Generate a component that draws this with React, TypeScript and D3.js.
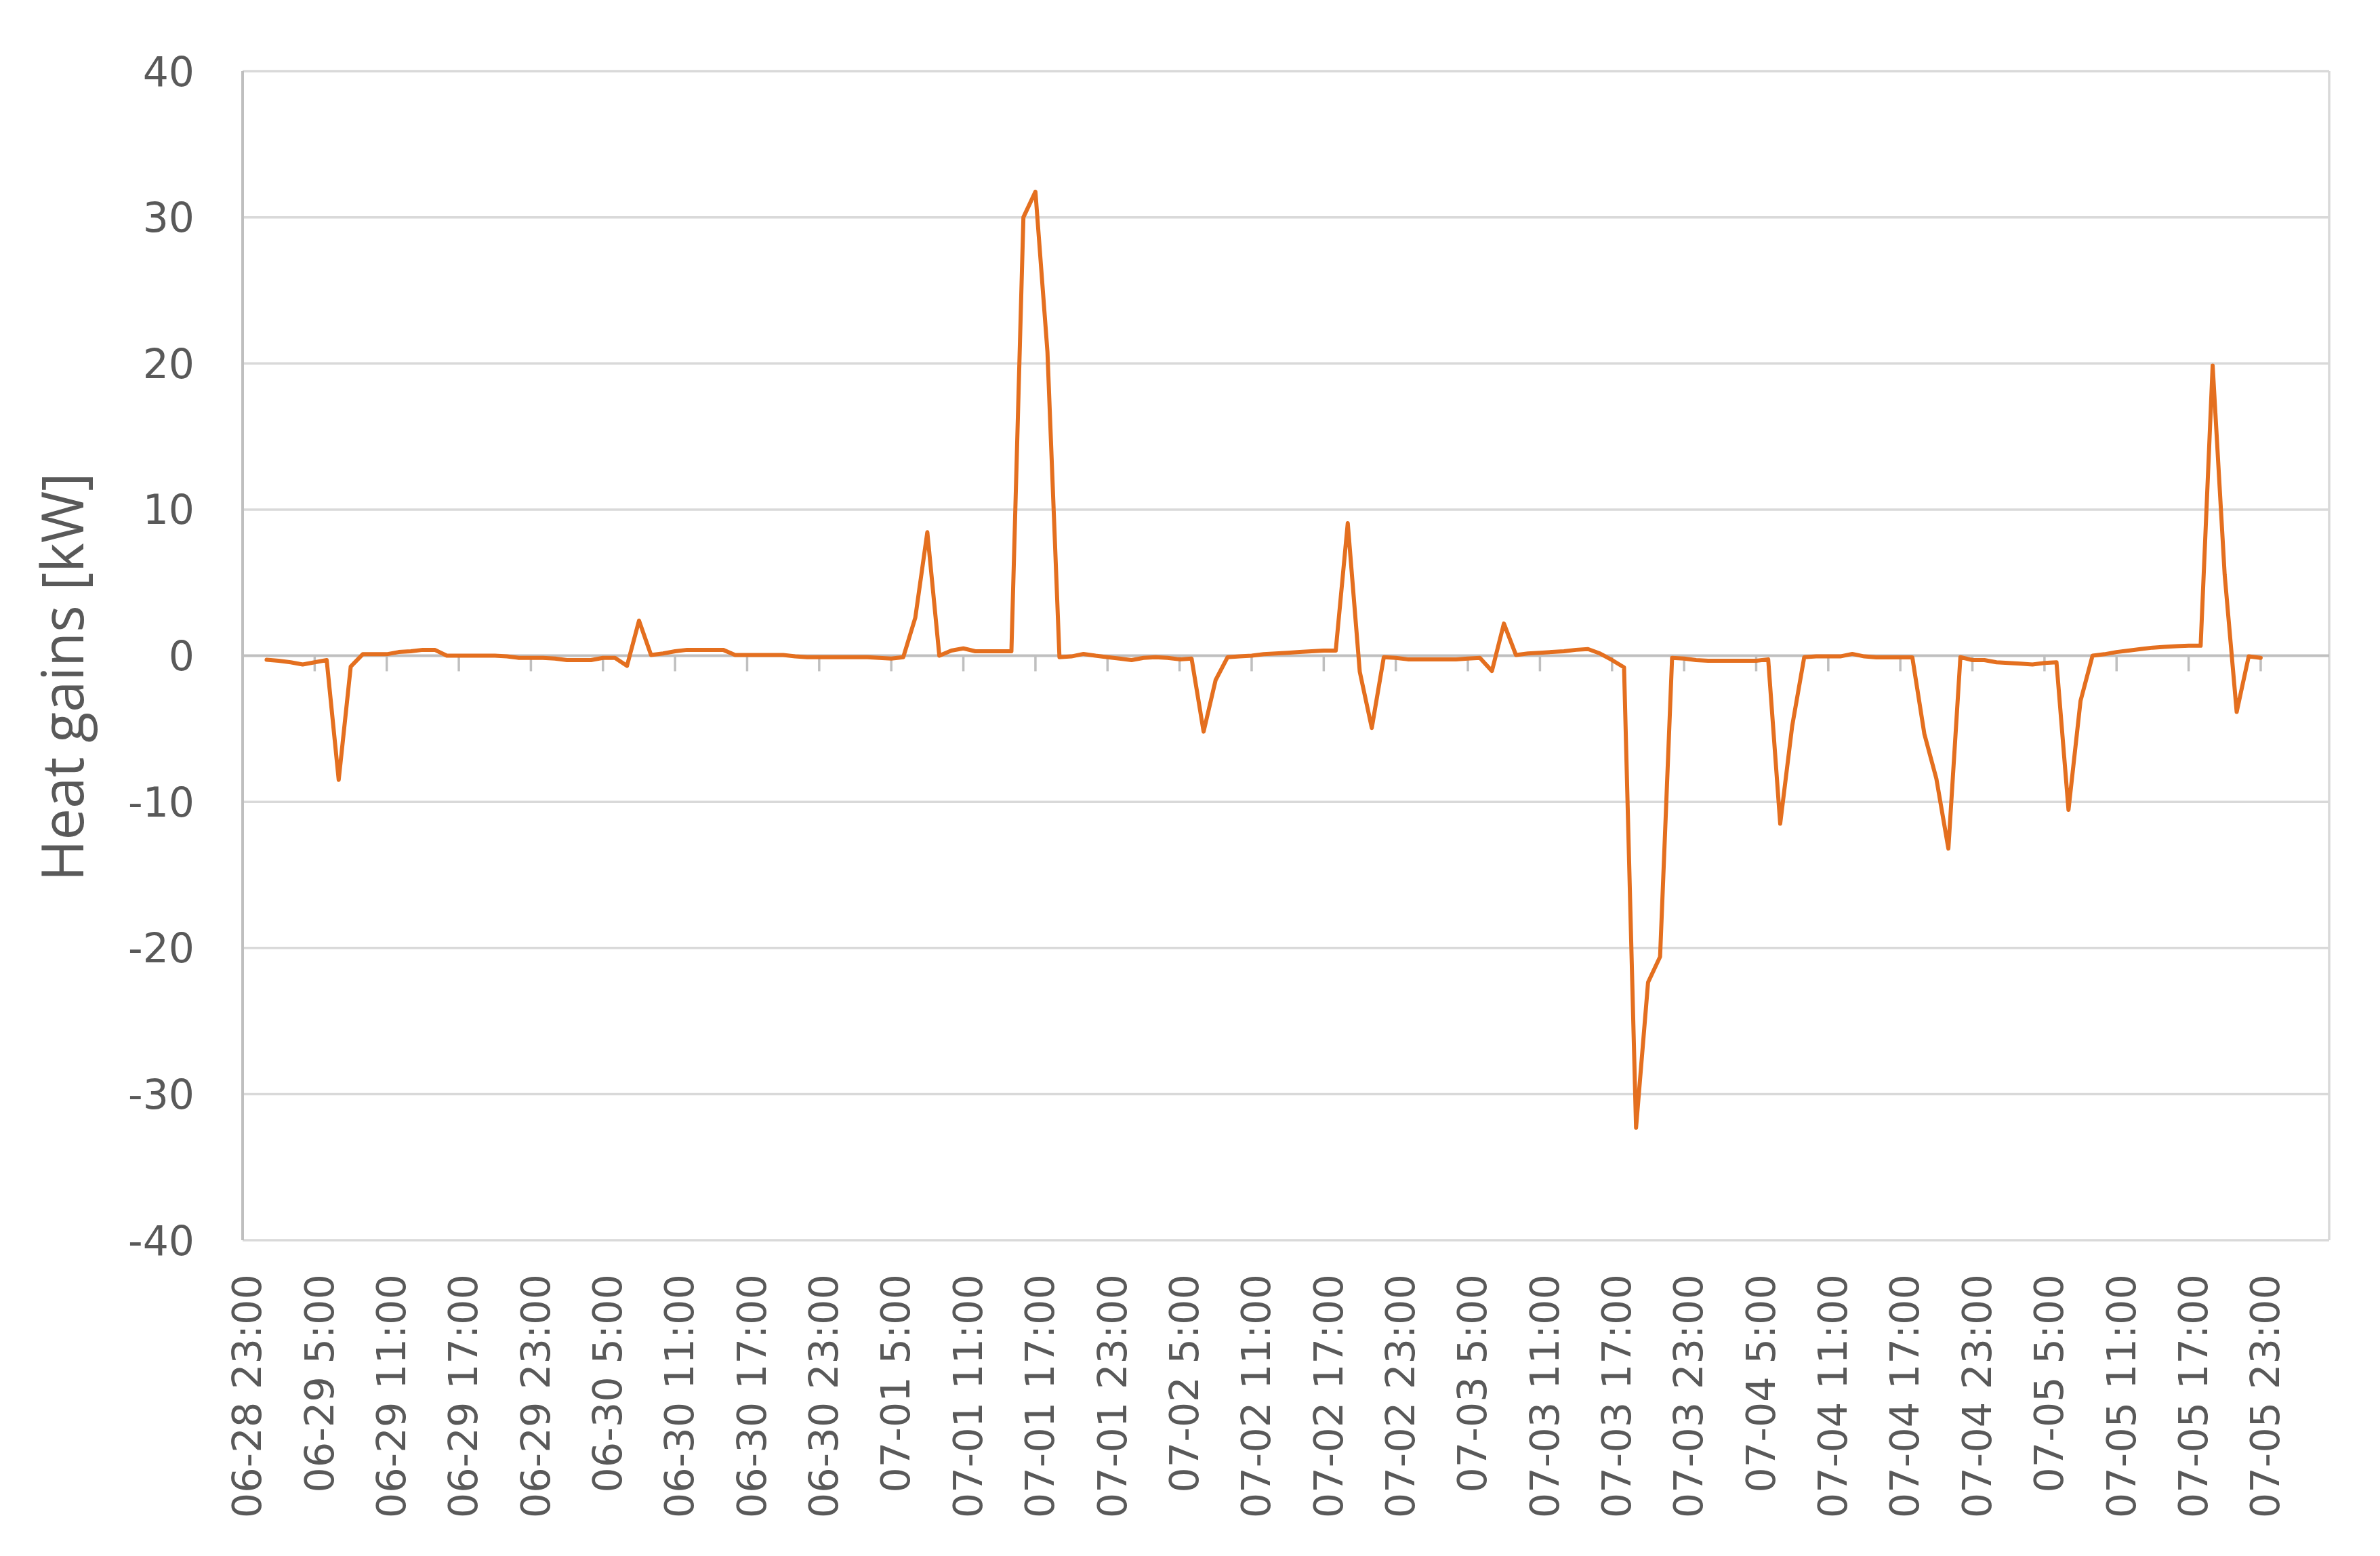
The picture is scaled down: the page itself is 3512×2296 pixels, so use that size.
import React from 'react';
import * as d3 from 'd3';

// ---- data ----
const xTickLabels: string[] = [
  "06-28 23:00", "06-29 5:00", "06-29 11:00", "06-29 17:00", "06-29 23:00",
  "06-30 5:00", "06-30 11:00", "06-30 17:00", "06-30 23:00",
  "07-01 5:00", "07-01 11:00", "07-01 17:00", "07-01 23:00",
  "07-02 5:00", "07-02 11:00", "07-02 17:00", "07-02 23:00",
  "07-03 5:00", "07-03 11:00", "07-03 17:00", "07-03 23:00",
  "07-04 5:00", "07-04 11:00", "07-04 17:00", "07-04 23:00",
  "07-05 5:00", "07-05 11:00", "07-05 17:00", "07-05 23:00",
];
const tickStepHours = 6;
const axisEndHour = 173.7;
const firstDataHour = 2; // first reading: 06-29 1:00

// hourly heat gains [kW], from 06-29 1:00 to 07-05 23:00
const heatGains: number[] = [
  -0.28, -0.35, -0.45, -0.6, -0.45, -0.3, -8.5, -0.75,
  0.1, 0.1, 0.1, 0.25, 0.3, 0.4, 0.4, 0.0,
  0.0, 0.0, 0.0, 0.0, -0.05, -0.15, -0.15, -0.15,
  -0.2, -0.3, -0.3, -0.3, -0.15, -0.15, -0.7, 2.4,
  0.05, 0.15, 0.3, 0.4, 0.4, 0.4, 0.4, 0.05,
  0.05, 0.05, 0.05, 0.05, -0.05, -0.1, -0.1, -0.1,
  -0.1, -0.1, -0.1, -0.15, -0.2, -0.1, 2.6, 8.45,
  0.0, 0.35, 0.5, 0.3, 0.3, 0.3, 0.3, 30.0,
  31.75, 20.8, -0.1, -0.05, 0.12, 0.0, -0.1, -0.2,
  -0.3, -0.15, -0.1, -0.15, -0.25, -0.2, -5.2, -1.67,
  -0.1, -0.05, 0.0, 0.1, 0.15, 0.2, 0.25, 0.3,
  0.35, 0.35, 9.07, -1.1, -4.95, -0.1, -0.15, -0.25,
  -0.25, -0.25, -0.25, -0.25, -0.2, -0.15, -1.05, 2.2,
  0.05, 0.15, 0.2, 0.25, 0.3, 0.4, 0.45, 0.15,
  -0.3, -0.8, -32.3, -22.35, -20.6, -0.15, -0.2, -0.3,
  -0.35, -0.35, -0.35, -0.35, -0.35, -0.25, -11.5, -4.8,
  -0.1, -0.05, -0.05, -0.05, 0.12, -0.05, -0.12, -0.12,
  -0.12, -0.12, -5.36, -8.42, -13.2, -0.1, -0.3, -0.3,
  -0.45, -0.5, -0.55, -0.6, -0.5, -0.45, -10.55, -3.1,
  0.0, 0.1, 0.25, 0.35, 0.45, 0.55, 0.6, 0.65,
  0.68, 0.68, 19.85, 5.55, -3.85, -0.05, -0.15,
];
const yTicks: number[] = [40, 30, 20, 10, 0, -10, -20, -30, -40];
const yTitle = "Heat gains [kW]";

// ---- layout ----
const W = 3512;
const H = 2296;
const plot = { left: 358, right: 3437, top: 105, bottom: 1830 };

export default function App() {
  const x = d3.scaleLinear().domain([0, axisEndHour]).range([plot.left, plot.right]);
  const y = d3.scaleLinear().domain([-40, 40]).range([plot.bottom, plot.top]);

  const points: [number, number][] = heatGains.map((v, i) => [firstDataHour + i, v]);
  const line = d3.line<[number, number]>()
    .x((d) => x(d[0]))
    .y((d) => y(d[1]));

  const tickHours = xTickLabels.map((_, i) => i * tickStepHours);

  return (
    <svg
      width={W}
      height={H}
      viewBox={`0 0 ${W} ${H}`}
      style={{ position: 'absolute', left: 0, top: 0, background: '#ffffff' }}
    >
      <rect x={0} y={0} width={W} height={H} fill="#ffffff" />
      {/* gridlines */}
      {yTicks.filter((t) => t !== 0).map((t) => (
        <line key={`g${t}`} x1={plot.left} x2={plot.right} y1={y(t)} y2={y(t)}
          stroke="#d9d9d9" strokeWidth={3.5} />
      ))}
      {/* plot frame */}
      <line x1={plot.right} x2={plot.right} y1={plot.top} y2={plot.bottom} stroke="#d9d9d9" strokeWidth={3.5} />
      <line x1={plot.left} x2={plot.left} y1={plot.top} y2={plot.bottom} stroke="#bfbfbf" strokeWidth={4} />
      {/* zero axis line and tick marks */}
      <line x1={plot.left} x2={plot.right} y1={y(0)} y2={y(0)} stroke="#bfbfbf" strokeWidth={4} />
      {tickHours.filter((h) => h > 0).map((h) => (
        <line key={`t${h}`} x1={x(h)} x2={x(h)} y1={y(0)} y2={y(0) + 23}
          stroke="#bfbfbf" strokeWidth={3.5} />
      ))}
      {/* data line */}
      <path d={line(points) ?? ''} fill="none" stroke="#e46f1f" strokeWidth={6}
        strokeLinejoin="round" strokeLinecap="round" />
      {/* y tick labels */}
      {yTicks.map((t) => (
        <text key={`yl${t}`} x={287} y={y(t)} dy="0.36em" textAnchor="end"
          fontFamily="DejaVu Sans, Verdana, sans-serif" fontSize={60} fill="#595959">
          {t}
        </text>
      ))}
      {/* x tick labels */}
      {xTickLabels.map((lab, i) => (
        <text key={`xl${i}`}
          transform={`translate(${x(tickHours[i]) + 6}, 1880) rotate(-90)`}
          dy="0.36em" textAnchor="end"
          fontFamily="DejaVu Sans, Verdana, sans-serif" fontSize={59} fill="#595959">
          {lab}
        </text>
      ))}
      {/* y title */}
      <text transform={`translate(123, 999) rotate(-90)`} textAnchor="middle"
        fontFamily="Open Sans, sans-serif" fontSize={86} fill="#595959"
        textLength={603} lengthAdjust="spacingAndGlyphs">
        {yTitle}
      </text>
    </svg>
  );
}
